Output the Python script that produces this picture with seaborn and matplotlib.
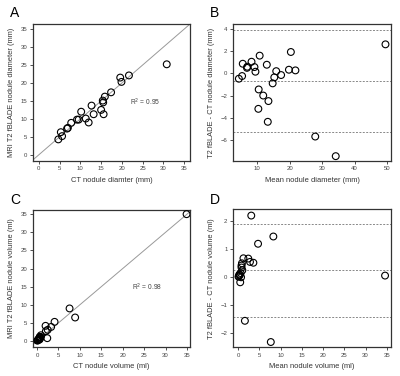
import numpy as np
import pandas as pd
import matplotlib
matplotlib.use("Agg")
import matplotlib.pyplot as plt
import seaborn as sns

# panel A: CT vs MRI diameter (mm)
ct_diam = [4.7, 5.3, 5.6, 6.8, 7.0, 7.8, 9.2, 9.6, 10.2, 11.3, 12.0, 12.7, 13.2, 15.0,
           15.4, 15.5, 15.6, 15.9, 17.4, 19.6, 19.9, 21.7, 30.8]
mri_diam = [4.3, 6.3, 5.2, 7.3, 7.5, 8.9, 9.8, 9.8, 12.0, 10.1, 9.0, 13.7, 11.3, 12.5,
            15.1, 14.6, 11.3, 16.2, 17.4, 21.5, 20.3, 22.1, 25.2]

# panel B: Bland-Altman diameter
mean_diam = [4.4, 5.4, 5.6, 6.9, 7.0, 8.3, 9.2, 9.5, 10.8, 10.5, 10.4, 11.9, 13.0, 13.3,
             13.5, 14.8, 15.3, 15.9, 17.4, 19.8, 20.4, 21.8, 27.9, 34.2, 49.5]
diff_diam = [-0.48, -0.24, 0.87, 0.5, 0.6, 1.05, 0.57, 0.15, 1.6, -1.45, -3.2, -2.0, 0.78,
             -4.37, -2.5, -0.9, -0.36, 0.2, -0.15, 0.33, 1.93, 0.27, -5.7, -7.47, 2.62]
ba_diam = [3.95, -0.69, -5.33]

# panel C: CT vs MRI volume (ml)
ct_vol = [0.09, 0.18, 0.25, 0.36, 0.59, 0.53, 0.7, 0.63, 0.59, 0.65, 0.88, 0.92, 2.07,
          2.5, 3.3, 2.0, 4.1, 7.6, 2.4, 8.9, 34.9]
mri_vol = [0.11, 0.23, 0.35, 0.44, 0.41, 0.68, 0.7, 0.98, 1.01, 1.15, 1.13, 1.6, 2.73,
           3.1, 3.9, 4.2, 5.3, 9.0, 0.8, 6.5, 35.0]

# panel D: Bland-Altman volume
mean_vol = [0.1, 0.2, 0.3, 0.4, 0.5, 0.6, 0.7, 0.8, 0.8, 0.9, 1.0, 1.26, 2.4, 2.8, 3.6,
            3.1, 4.7, 8.3, 1.6, 7.7, 34.6]
diff_vol = [0.02, 0.05, 0.1, 0.08, -0.18, 0.15, 0.0, 0.35, 0.42, 0.5, 0.25, 0.68, 0.67,
            0.55, 0.52, 2.21, 1.2, 1.46, -1.56, -2.32, 0.06]
ba_vol = [1.9, 0.25, -1.43]

sns.set_theme(style="white")
plt.rcParams['font.family'] = ['Liberation Sans', 'DejaVu Sans']

fig = plt.figure(figsize=(4, 3.76), dpi=100)
axA = fig.add_axes([0.0825, 0.572, 0.3925, 0.364])
axB = fig.add_axes([0.5825, 0.572, 0.395, 0.364])
axC = fig.add_axes([0.0825, 0.077, 0.3925, 0.364])
axD = fig.add_axes([0.5825, 0.077, 0.395, 0.366])

edge = "#333333"


def style(ax):
    for s in ax.spines.values():
        s.set_visible(True)
        s.set_color(edge)
        s.set_linewidth(0.9)
    ax.tick_params(axis='both', direction='out', length=2.5, width=0.6, color=edge,
                   labelsize=4.3, labelcolor="#444444", pad=1.5, bottom=True, left=True)


def points(ax, x, y):
    df = pd.DataFrame({"x": x, "y": y})
    sns.scatterplot(data=df, x="x", y="y", ax=ax, s=24, facecolor="none",
                    edgecolor="black", linewidth=0.8, zorder=3)


# A
points(axA, ct_diam, mri_diam)
axA.axline((0, 0), slope=1, color="#999999", lw=0.7, zorder=1)
axA.set_xlim(-1.4, 36.4)
axA.set_ylim(-1.7, 36.4)
axA.set_xticks(range(0, 36, 5))
axA.set_yticks(range(0, 36, 5))
axA.text(25.5, 14.7, "R$^2$ = 0.95", fontsize=4.8, color="#444444", ha="center", va="center")
axA.set_xlabel("CT nodule diamter (mm)", fontsize=5.4, color="#333333", labelpad=4)
axA.set_ylabel("MRI T2 fBLADE nodule diameter (mm)", fontsize=5.4, color="#333333", labelpad=4)

# B
points(axB, mean_diam, diff_diam)
for v in ba_diam:
    axB.axhline(v, color="#888888", lw=0.7, ls=(0, (2, 1.5)), zorder=1)
axB.set_xlim(2.6, 51.2)
axB.set_ylim(-7.9, 4.45)
axB.set_xticks(range(10, 51, 10))
axB.set_yticks(range(-6, 5, 2))
axB.set_xlabel("Mean nodule diameter (mm)", fontsize=5.4, color="#333333", labelpad=4)
axB.set_ylabel("T2 fBLADE - CT nodule diameter (mm)", fontsize=5.4, color="#333333", labelpad=4)

# C
points(axC, ct_vol, mri_vol)
axC.axline((0, 0), slope=1, color="#999999", lw=0.7, zorder=1)
axC.set_xlim(-0.93, 35.7)
axC.set_ylim(-1.65, 36.1)
axC.set_xticks(range(0, 36, 5))
axC.set_yticks(range(0, 36, 5))
axC.text(25.6, 14.9, "R$^2$ = 0.98", fontsize=4.8, color="#444444", ha="center", va="center")
axC.set_xlabel("CT nodule volume (ml)", fontsize=5.4, color="#333333", labelpad=4)
axC.set_ylabel("MRI T2 fBLADE nodule volume (ml)", fontsize=5.4, color="#333333", labelpad=4)

# D
points(axD, mean_vol, diff_vol)
for v in ba_vol:
    axD.axhline(v, color="#888888", lw=0.7, ls=(0, (2, 1.5)), zorder=1)
axD.set_xlim(-1.2, 36.0)
axD.set_ylim(-2.5, 2.43)
axD.set_xticks(range(0, 36, 5))
axD.set_yticks(range(-2, 3, 1))
axD.set_xlabel("Mean nodule volume (ml)", fontsize=5.4, color="#333333", labelpad=4)
axD.set_ylabel("T2 fBLADE - CT nodule volume (ml)", fontsize=5.4, color="#333333", labelpad=4)

for ax in (axA, axB, axC, axD):
    style(ax)

for lab, (x, y) in zip("ABCD", [(0.025, 0.965), (0.525, 0.965), (0.025, 0.468), (0.525, 0.468)]):
    fig.text(x, y, lab, fontsize=10, color="black", ha="left", va="center")

fig.savefig("out.png", dpi=100)
